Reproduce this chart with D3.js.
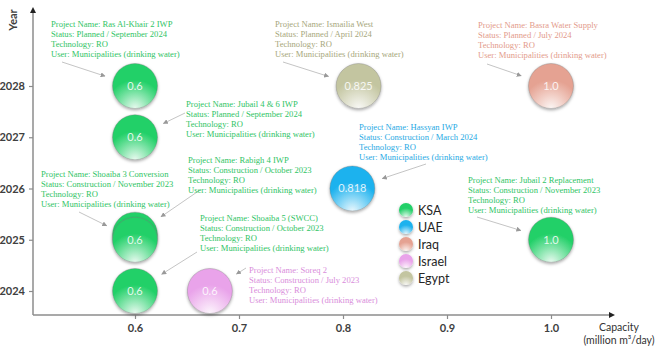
<!DOCTYPE html>
<html>
<head>
<meta charset="utf-8">
<script src="https://cdn.jsdelivr.net/npm/d3@7"></script>
<style>
  body { margin: 0; background: #fff; }
  svg { display: block; }
</style>
</head>
<body>
<div id="chart"></div>
<script>
const width = 663;
const height = 348;

// data
const projects = ["Ras Al-Khair 2 IWP", "Jubail 4 & 6 IWP", "Rabigh 4 IWP", "Shoaiba 3 Conversion", "Shoaiba 5 (SWCC)",
                  "Jubail 2 Replacement", "Hassyan IWP", "Basra Water Supply", "Soreq 2", "Ismailia West"];
const countries = ["KSA", "KSA", "KSA", "KSA", "KSA", "KSA", "UAE", "Iraq", "Israel", "Egypt"];
const capacity = [0.6, 0.6, 0.6, 0.6, 0.6, 1.0, 0.809, 1.0, 0.672, 0.815];   // where the bubble sits
const capLabels = ["0.6", "0.6", "0.6", "0.6", "0.6", "1.0", "0.818", "1.0", "0.6", "0.825"];
const years = [2028, 2027, 2025.1, 2025, 2024, 2025, 2026, 2028, 2024, 2028];
const statuses = ["Planned / September 2024", "Planned / September 2024", "Construction / October 2023",
                  "Construction / November 2023", "Construction / October 2023", "Construction / November 2023",
                  "Construction / March 2024", "Planned / July 2024", "Construction / July 2023", "Planned / April 2024"];
const technology = ["RO", "RO", "RO", "RO", "RO", "RO", "RO", "RO", "RO", "RO"];
const users = new Array(10).fill("Municipalities (drinking water)");

const xTicks = [0.6, 0.7, 0.8, 0.9, 1.0];
const yTicks = [2024, 2025, 2026, 2027, 2028];
const legendNames = ["KSA", "UAE", "Iraq", "Israel", "Egypt"];

// colours
const bubbleColor = {KSA: "#22d068", UAE: "#1eb2ee", Iraq: "#e5a292", Israel: "#e9a3ea", Egypt: "#c3c5a0"};
const textColor = {KSA: "#2fc465", UAE: "#27a9e4", Iraq: "#e39b8b", Israel: "#d98ddb", Egypt: "#a7a77c"};

// label layout: text anchor [x, first baseline] and arrow start [x, y]
const noteLayout = [
  {tx: 51, ty: 26.5, ax: 62, ay: 62},
  {tx: 186, ty: 106.5, ax: 185, ay: 113},
  {tx: 188, ty: 163, ax: 200, ay: 190},
  {tx: 41, ty: 176.5, ax: 79, ay: 212},
  {tx: 200, ty: 220.5, ax: 197, ay: 252},
  {tx: 468, ty: 183, ax: 477, ay: 217},
  {tx: 359, ty: 130, ax: 426, ay: 164},
  {tx: 478, ty: 27.5, ax: 487, ay: 64},
  {tx: 249, ty: 273, ax: 246, ay: 268},
  {tx: 275, ty: 26.5, ax: 283, ay: 62}
];

const axisX0 = 33, axisY0 = 315;
const bubbleR = 22.5;

const xScale = d3.scaleLinear().domain([0.6, 1.0]).range([135, 551]);
const yScale = d3.scaleLinear().domain([2024, 2028]).range([291, 86]);

const svg = d3.select("#chart").append("svg")
  .attr("width", width)
  .attr("height", height)
  .attr("viewBox", [0, 0, width, height]);

const defs = svg.append("defs");

Object.keys(bubbleColor).forEach(function (k) {
  const g = defs.append("radialGradient")
    .attr("id", "grad-" + k)
    .attr("cx", "50%").attr("cy", "100%").attr("r", "80%")
    .attr("fx", "50%").attr("fy", "100%");
  const c = d3.color(bubbleColor[k]);
  g.append("stop").attr("offset", "0%").attr("stop-color", d3.interpolateRgb(c, "#fff")(0.9));
  g.append("stop").attr("offset", "40%").attr("stop-color", d3.interpolateRgb(c, "#fff")(0.45));
  g.append("stop").attr("offset", "80%").attr("stop-color", c.formatHex());
  g.append("stop").attr("offset", "100%").attr("stop-color", c.formatHex());
});

const shadow = defs.append("filter").attr("id", "shadow")
  .attr("x", "-30%").attr("y", "-30%").attr("width", "160%").attr("height", "160%");
shadow.append("feDropShadow").attr("dx", 0).attr("dy", 1.5).attr("stdDeviation", 1.4)
  .attr("flood-color", "#000").attr("flood-opacity", 0.35);

defs.append("marker")
  .attr("id", "arrowhead")
  .attr("viewBox", "0 0 10 10")
  .attr("refX", 9).attr("refY", 5)
  .attr("markerWidth", 5).attr("markerHeight", 5)
  .attr("markerUnits", "userSpaceOnUse")
  .attr("orient", "auto")
  .append("path").attr("d", "M0,0L10,5L0,10Z").attr("fill", "#999");

defs.append("marker")
  .attr("id", "axisarrow")
  .attr("viewBox", "0 0 10 10")
  .attr("refX", 5).attr("refY", 5)
  .attr("markerWidth", 6).attr("markerHeight", 6)
  .attr("markerUnits", "userSpaceOnUse")
  .attr("orient", "auto")
  .append("path").attr("d", "M0,0L10,5L0,10Z").attr("fill", "#222");

// axes
svg.append("line")
  .attr("x1", axisX0).attr("y1", axisY0).attr("x2", 612).attr("y2", axisY0)
  .attr("stroke", "#8c8c8c").attr("stroke-width", 1.5)
  .attr("marker-end", "url(#axisarrow)");
svg.append("line")
  .attr("x1", axisX0).attr("y1", axisY0).attr("x2", axisX0).attr("y2", 10)
  .attr("stroke", "#8c8c8c").attr("stroke-width", 1.5)
  .attr("marker-end", "url(#axisarrow)");

const xAxis = svg.append("g")
  .attr("transform", "translate(0," + axisY0 + ")")
  .call(d3.axisBottom(xScale).tickValues(xTicks).tickFormat(d3.format(".1f")).tickSize(4).tickPadding(5));
const yAxis = svg.append("g")
  .attr("transform", "translate(" + axisX0 + ",0)")
  .call(d3.axisLeft(yScale).tickValues(yTicks).tickFormat(d3.format("d")).tickSize(4).tickPadding(4));

[xAxis, yAxis].forEach(function (g) {
  g.select(".domain").remove();
  g.selectAll(".tick line").attr("stroke", "#8c8c8c").attr("stroke-width", 1.2);
  g.selectAll("text")
    .attr("font-family", "Lato, 'Open Sans', sans-serif")
    .attr("font-weight", 700)
    .attr("font-size", "11px")
    .attr("fill", "#404040");
});

svg.append("text")
  .attr("transform", "translate(17,20) rotate(-90)")
  .attr("text-anchor", "middle")
  .attr("font-family", "Lato, sans-serif").attr("font-weight", 700).attr("font-size", "11px")
  .attr("fill", "#404040")
  .text("Year");

const capTitle = svg.append("text")
  .attr("text-anchor", "middle")
  .attr("font-family", "Lato, sans-serif").attr("font-size", "10.5px").attr("fill", "#333");
capTitle.append("tspan").attr("x", 619).attr("y", 331).text("Capacity");
capTitle.append("tspan").attr("x", 619).attr("y", 344).text("(million m³/day)");

// bubbles
const rows = projects.map(function (p, i) {
  return {name: p, country: countries[i], cap: capacity[i], label: capLabels[i], year: years[i],
          status: statuses[i], tech: technology[i], user: users[i], layout: noteLayout[i]};
});

// a bubble whose centre is almost covered by a later one keeps its label hidden
rows.forEach(function (d, i) {
  d.hidden = rows.slice(i + 1).some(function (e) {
    return Math.abs(xScale(e.cap) - xScale(d.cap)) < 8 && Math.abs(yScale(e.year) - yScale(d.year)) < 8;
  });
});

const bubbles = svg.append("g").selectAll("g")
  .data(rows)
  .join("g")
  .attr("transform", d => "translate(" + xScale(d.cap) + "," + yScale(d.year) + ")");

bubbles.append("circle")
  .attr("r", bubbleR)
  .attr("fill", d => "url(#grad-" + d.country + ")")
  .attr("stroke", "rgba(120,120,120,0.35)")
  .attr("stroke-width", 1)
  .attr("filter", "url(#shadow)");

bubbles.filter(d => !d.hidden).append("text")
  .attr("text-anchor", "middle")
  .attr("dy", "0.36em")
  .attr("font-family", "Lato, 'Open Sans', sans-serif")
  .attr("font-size", "11px")
  .attr("fill", "rgba(255,255,255,0.85)")
  .text(d => d.label);

// annotations
const notes = svg.append("g");
rows.forEach(function (d) {
  const L = d.layout;
  const cx = xScale(d.cap), cy = yScale(d.year);
  const dx = cx - L.ax, dy = cy - L.ay;
  const dist = Math.sqrt(dx * dx + dy * dy);
  const gap = bubbleR + 9;
  notes.append("line")
    .attr("x1", L.ax).attr("y1", L.ay)
    .attr("x2", cx - dx / dist * gap).attr("y2", cy - dy / dist * gap)
    .attr("stroke", "#b5b5b5").attr("stroke-width", 0.8)
    .attr("marker-end", "url(#arrowhead)");

  const t = notes.append("text")
    .attr("font-family", "'Liberation Serif', 'Times New Roman', serif")
    .attr("font-size", "8.6px")
    .attr("fill", textColor[d.country]);
  const lines = ["Project Name: " + d.name, "Status: " + d.status, "Technology: " + d.tech, "User: " + d.user];
  lines.forEach(function (s, k) {
    t.append("tspan").attr("x", L.tx).attr("y", L.ty + k * 10).text(s);
  });
});

// legend
const legend = svg.append("g").attr("transform", "translate(406,210)");
const legendItems = legend.selectAll("g")
  .data(legendNames)
  .join("g")
  .attr("transform", (d, i) => "translate(0," + i * 17 + ")");
legendItems.append("circle")
  .attr("r", 7)
  .attr("fill", d => "url(#grad-" + d + ")")
  .attr("filter", "url(#shadow)");
legendItems.append("text")
  .attr("x", 12)
  .attr("dy", "0.36em")
  .attr("font-family", "Lato, 'Open Sans', sans-serif")
  .attr("font-size", "12.5px")
  .attr("fill", "#262626")
  .text(d => d);
</script>
</body>
</html>
